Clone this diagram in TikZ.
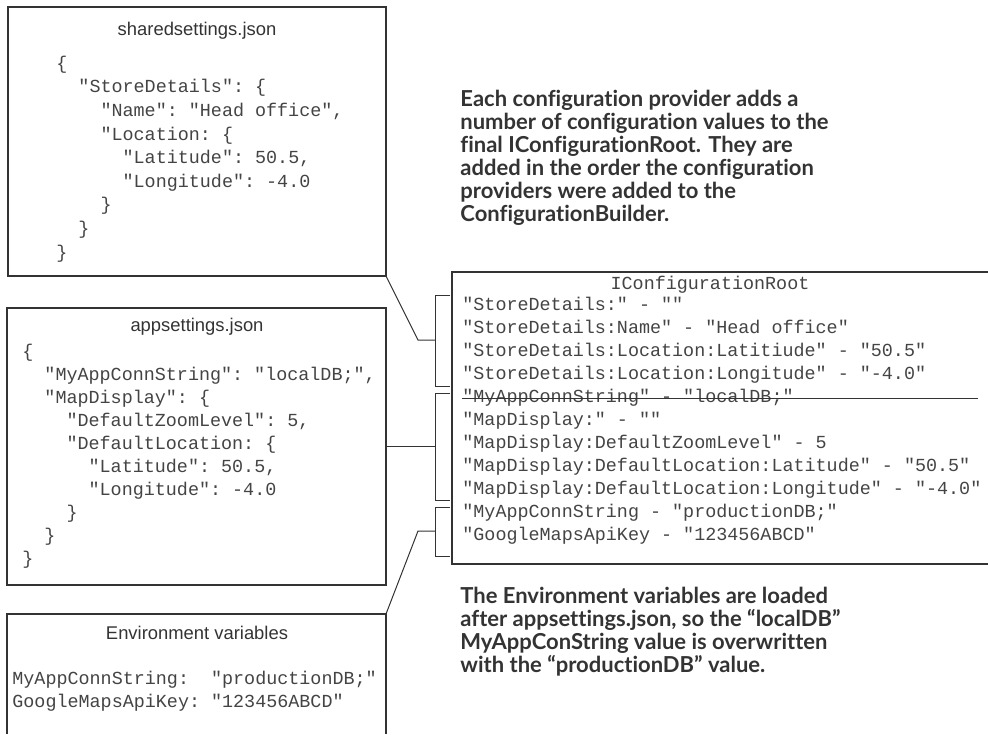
\documentclass[tikz,border=0pt]{standalone}
\usepackage{fontspec}
\setmainfont{Liberation Sans}
\setmonofont{Liberation Mono}
\newfontfamily\notefont{Lato}[Ligatures=NoCommon]
\usetikzlibrary{positioning}

\definecolor{ink}{HTML}{333333}
\definecolor{codeink}{HTML}{444444}

\tikzset{
  panel/.style = {draw = ink, line width = 0.6pt},
  link/.style = {draw = ink, line width = 0.5pt},
  code/.style = {font = \ttfamily\fontsize{9.2}{11.5}\selectfont, align = left,
                 inner sep = 0pt, anchor = base west, text = codeink},
  paneltitle/.style = {font = \fontsize{9.2}{11}\selectfont, inner sep = 0pt, text = ink},
  note/.style = {font = \notefont\bfseries\fontsize{11}{11.5}\selectfont, align = left,
                 inner sep = 0pt, anchor = base west, text = ink}
}

\newcommand{\ind}[1]{\phantom{#1}}

\begin{document}
\begin{tikzpicture}[x = 0.5pt, y = -0.5pt]
\useasboundingbox (0,0) rectangle (988,734);

% panel corners
\coordinate (shared-nw) at (8,7);
\coordinate (shared-se) at (386,276);
\coordinate (app-nw) at (7,308);
\coordinate (app-se) at (386,585);
\coordinate (env-ne) at (386,614);
\coordinate (root-nw) at (452,272);

% panels
\draw [panel] (shared-nw) rectangle (shared-se);
\draw [panel] (app-nw) rectangle (app-se);
\draw [panel] (7,734) -- (7,614) -- (env-ne) -- (386,734);
\draw [panel] (988,272) -- (root-nw) |- (988,564);

% titles
\node [paneltitle] (shared-title) at (197,31) {sharedsettings.json};
\node [paneltitle] (app-title) at (197,327) {appsettings.json};
\node [paneltitle] (env-title) at (197,633) {Environment variables};
\node [code, anchor = center] (root-title) at (710,285) {IConfigurationRoot};

% file contents (anchored at the last baseline)
\node [code, font = \ttfamily\fontsize{9.2}{11.8}\selectfont] (shared-text) at (56,258) {\{\\
\ind{xx}"StoreDetails": \{\\
\ind{xxxx}"Name": "Head office",\\
\ind{xxxx}"Location: \{\\
\ind{xxxxxx}"Latitude": 50.5,\\
\ind{xxxxxx}"Longitude": -4.0\\
\ind{xxxx}\}\\
\ind{xx}\}\\
\}};

\node [code] (app-text) at (22,564) {\{\\
\ind{xx}"MyAppConnString": "localDB;",\\
\ind{xx}"MapDisplay": \{\\
\ind{xxxx}"DefaultZoomLevel": 5,\\
\ind{xxxx}"DefaultLocation: \{\\
\ind{xxxxxx}"Latitude": 50.5,\\
\ind{xxxxxx}"Longitude": -4.0\\
\ind{xxxx}\}\\
\ind{xx}\}\\
\}};

\node [code, font = \ttfamily\fontsize{9.2}{11.2}\selectfont] (env-text) at (12,707) {MyAppConnString:\ \ "productionDB;"\\
GoogleMapsApiKey: "123456ABCD"};

\node [code] (root-text) at (462,540) {"StoreDetails:" - ""\\
"StoreDetails:Name" - "Head office"\\
"StoreDetails:Location:Latitiude" - "50.5"\\
"StoreDetails:Location:Longitude" - "-4.0"\\
"MyAppConnString" - "localDB;"\\
"MapDisplay:" - ""\\
"MapDisplay:DefaultZoomLevel" - 5\\
"MapDisplay:DefaultLocation:Latitude" - "50.5"\\
"MapDisplay:DefaultLocation:Longitude" - "-4.0"\\
"MyAppConnString - "productionDB;"\\
"GoogleMapsApiKey - "123456ABCD"};

% overwritten value
\coordinate (strike-start) at (462,398);
\draw [link] (strike-start) -- (978,398);

% brackets
\coordinate (b1) at (435,340);
\coordinate (b2) at (435,446);
\coordinate (b3) at (435,531);
\draw [link] (450,295) -| (435,386) -- (450,386);
\draw [link] (450,393) -| (435,500) -- (450,500);
\draw [link] (450,507) -| (435,556) -- (450,556);

% connectors
\draw [link] (shared-se) -- (418,340) -- (b1);
\draw [link] (app-se |- b2) -- (b2);
\draw [link] (env-ne) -- (418,531) -- (b3);

% notes
\node [note] (order-note) at (460,221) {Each configuration provider adds a\\
number of configuration values to the\\
final IConfigurationRoot. They are\\
added in the order the configuration\\
providers were added to the\\
ConfigurationBuilder.};

\node [note] (override-note) at (460,672) {The Environment variables are loaded\\
after appsettings.json, so the “localDB”\\
MyAppConString value is overwritten\\
with the “productionDB” value.};
\end{tikzpicture}
\end{document}
